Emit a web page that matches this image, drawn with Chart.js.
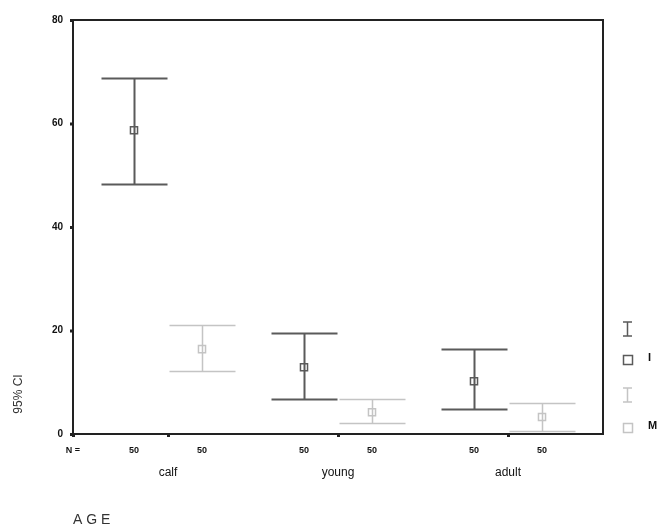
<!DOCTYPE html>
<html>
<head>
<meta charset="utf-8">
<script src="https://cdn.jsdelivr.net/npm/chart.js@4/dist/chart.umd.min.js"></script>
<style>
  html, body { margin: 0; padding: 0; background: #fff; }
  #wrap { width: 659px; height: 532px; }
</style>
</head>
<body>
<div id="wrap"><canvas id="ciChart" width="659" height="532"></canvas></div>
<script>
// data
const categories = ['calf', 'young', 'adult'];
const groups = ['I', 'M'];
const counts = [50, 50, 50, 50, 50, 50];
const yTicks = [0, 20, 40, 60, 80];

const darkMean = [58.7, 12.9, 10.2];
const darkLower = [48.3, 6.8, 4.8];
const darkUpper = [68.7, 19.6, 16.4];

const lightMean = [16.4, 4.2, 3.3];
const lightLower = [12.2, 2.1, 0.6];
const lightUpper = [21.0, 6.8, 6.0];

const darkColor = '#5a5a5a';
const lightColor = '#c4c4c4';
const offset = 0.2;

function points(means, shift) {
    return means.map((m, i) => ({ x: i + 1 + shift, y: m }));
}

// error bars + labels drawn through the scales
const ciPlugin = {
    id: 'ciPlugin',
    afterDatasetsDraw(chart) {
        const ctx = chart.ctx;
        const xs = chart.scales.x;
        const ys = chart.scales.y;
        const area = chart.chartArea;
        const sets = [
            { lo: darkLower, hi: darkUpper, shift: -offset, color: darkColor, lw: 2 },
            { lo: lightLower, hi: lightUpper, shift: offset, color: lightColor, lw: 1.5 }
        ];
        ctx.save();
        sets.forEach(s => {
            ctx.strokeStyle = s.color;
            ctx.lineWidth = s.lw;
            s.lo.forEach((lo, i) => {
                const px = Math.round(xs.getPixelForValue(i + 1 + s.shift)) + 0.5;
                const pLo = Math.round(ys.getPixelForValue(lo)) + 0.5;
                const pHi = Math.round(ys.getPixelForValue(s.hi[i])) + 0.5;
                ctx.beginPath();
                ctx.moveTo(px, pHi); ctx.lineTo(px, pLo);
                ctx.moveTo(px - 33, pHi); ctx.lineTo(px + 33, pHi);
                ctx.moveTo(px - 33, pLo); ctx.lineTo(px + 33, pLo);
                ctx.stroke();
            });
        });

        // frame
        ctx.strokeStyle = '#222';
        ctx.lineWidth = 2;
        ctx.strokeRect(area.left, area.top, area.right - area.left, area.bottom - area.top);

        // x ticks at category centres and origin
        ctx.fillStyle = '#222';
        [xs.min].concat(categories.map((c, i) => i + 1)).forEach(v => {
            const px = xs.getPixelForValue(v);
            ctx.fillRect(px - 1, area.bottom, 3, 3);
        });
        yTicks.forEach(v => {
            const py = ys.getPixelForValue(v);
            ctx.fillRect(area.left - 3, py - 1, 3, 3);
        });

        // N = row and category names
        ctx.font = 'bold 9px "Liberation Sans", Arial, sans-serif';
        ctx.textAlign = 'center';
        ctx.textBaseline = 'middle';
        ctx.fillStyle = '#111';
        ctx.fillText('N =', area.left, area.bottom + 17);
        categories.forEach((c, i) => {
            ctx.fillText(String(counts[i * 2]), xs.getPixelForValue(i + 1 - offset), area.bottom + 17);
            ctx.fillText(String(counts[i * 2 + 1]), xs.getPixelForValue(i + 1 + offset), area.bottom + 17);
        });
        ctx.font = '12px "Liberation Sans", Arial, sans-serif';
        categories.forEach((c, i) => {
            ctx.fillText(c, xs.getPixelForValue(i + 1), area.bottom + 39);
        });

        // axis titles
        ctx.font = '14px "Liberation Sans", Arial, sans-serif';
        ctx.textAlign = 'left';
        ctx.fillStyle = '#333';
        ctx.fillText('A G E', area.left, 520);
        ctx.save();
        ctx.translate(19, 394);
        ctx.rotate(-Math.PI / 2);
        ctx.textAlign = 'center';
        ctx.font = '12px "Liberation Sans", Arial, sans-serif';
        ctx.fillText('95% CI', 0, 0);
        ctx.restore();

        // legend
        const legend = [
            { color: darkColor, iy: 329, sy: 360, label: groups[0] },
            { color: lightColor, iy: 395, sy: 428, label: groups[1] }
        ];
        legend.forEach(l => {
            ctx.strokeStyle = l.color;
            ctx.lineWidth = 1.5;
            ctx.beginPath();
            ctx.moveTo(627.5, l.iy - 7); ctx.lineTo(627.5, l.iy + 7);
            ctx.moveTo(623, l.iy - 7); ctx.lineTo(632, l.iy - 7);
            ctx.moveTo(623, l.iy + 7); ctx.lineTo(632, l.iy + 7);
            ctx.stroke();
            ctx.strokeRect(623.5, l.sy - 4.5, 9, 9);
            ctx.fillStyle = '#111';
            ctx.font = 'bold 11px "Liberation Sans", Arial, sans-serif';
            ctx.textAlign = 'left';
            ctx.fillText(l.label, 648, l.sy - 2);
        });
        ctx.restore();
    }
};

new Chart(document.getElementById('ciChart'), {
    type: 'scatter',
    data: {
        datasets: [
            {
                label: groups[0],
                data: points(darkMean, -offset),
                pointStyle: 'rect',
                pointRadius: 5,
                borderColor: darkColor,
                backgroundColor: 'rgba(0,0,0,0)',
                borderWidth: 1.5
            },
            {
                label: groups[1],
                data: points(lightMean, offset),
                pointStyle: 'rect',
                pointRadius: 5,
                borderColor: lightColor,
                backgroundColor: 'rgba(0,0,0,0)',
                borderWidth: 1.5
            }
        ]
    },
    options: {
        responsive: false,
        animation: false,
        events: [],
        layout: { padding: { top: 20, right: 56, left: 0, bottom: 0 } },
        plugins: {
            legend: { display: false },
            tooltip: { enabled: false }
        },
        scales: {
            x: {
                type: 'linear',
                min: 1 - 95 / 170,
                max: 3 + 95 / 170,
                grid: { display: false },
                border: { display: false },
                ticks: { display: false },
                afterFit: s => { s.height = 98; }
            },
            y: {
                min: 0,
                max: 80,
                afterBuildTicks: s => { s.ticks = yTicks.map(v => ({ value: v })); },
                grid: { display: false, drawTicks: false },
                border: { display: false },
                ticks: {
                    color: '#111',
                    padding: 10,
                    font: { family: '"Liberation Sans", Arial, sans-serif', size: 10, weight: 'bold' }
                },
                afterFit: s => { s.width = 73; }
            }
        }
    },
    plugins: [ciPlugin]
});
</script>
</body>
</html>
